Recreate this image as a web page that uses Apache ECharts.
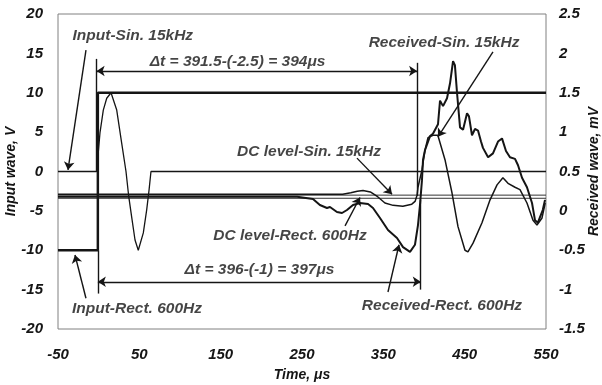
<!DOCTYPE html>
<html>
<head>
<meta charset="utf-8">
<script src="https://cdn.jsdelivr.net/npm/echarts@6/dist/echarts.min.js"></script>
<style>
  html, body { margin: 0; padding: 0; background: #fff; }
  #chart { width: 602px; height: 385px; }
</style>
</head>
<body>
<div id="chart"></div>
<script>
// Time axis labels (μs)
const xTickLabels = ['-50', '50', '150', '250', '350', '450', '550'];

// Input rectangular pulse, 600 Hz (V)
const inRectT = [-50, -1, -1, 550];
const inRectV = [-10, -10, 10, 10];

// Input one-cycle sine burst, 15 kHz (V)
const inSinT = [-50, -2.5, 1.6, 5.7, 9.9, 15.2, 22.2, 28.3, 33.6, 37, 40.6, 44.7, 48.7, 54.9, 59, 61.9, 64.3, 550];
const inSinV = [0, 0, 4.9, 7.8, 9.3, 10, 7.8, 3.6, 0, -3.2, -5.8, -8.7, -10, -7.8, -4.9, -2.4, 0, 0];

// Received signal for the rectangular input (mV)
const rxRectT = [-50, 244, 263.5, 272, 280.7, 284.4, 293, 299.2, 305.3, 312.7, 321.3, 331.2, 337.3, 345.9, 355.7, 366.8, 374.2, 382.8, 388.9, 392.6, 395.1, 397.5, 398.8, 401.2, 407.4, 411, 417.2, 419.7, 423.4, 428.3, 432, 435.7, 438, 440.6, 444.3, 448, 452.9, 455.3, 459, 462.7, 466.4, 470.1, 472.5, 478.8, 484.8, 491, 495.9, 500.8, 505.7, 511.9, 515.6, 520.5, 526.6, 532.8, 536.5, 540, 546, 548.8];
const rxRectV = [0.18, 0.18, 0.15, 0.075, 0.037, 0.049, -0.014, -0.027, 0.011, 0.075, 0.1, 0.087, 0.037, -0.09, -0.243, -0.345, -0.46, -0.52, -0.43, -0.18, 0.08, 0.39, 0.65, 0.77, 0.95, 0.98, 1.1, 1.4, 1.33, 1.43, 1.62, 1.9, 1.85, 1.5, 1.06, 1.03, 1.24, 1.2, 0.96, 1.04, 1.02, 0.88, 0.8, 0.68, 0.73, 0.88, 0.92, 0.76, 0.68, 0.66, 0.58, 0.42, 0.3, 0.1, -0.12, -0.15, 0.01, 0.14];

// Received signal for the sine burst input (mV)
const rxSinT = [-50, 300, 310, 318, 325, 334, 343, 352, 362, 374, 385, 389, 391.5, 392.6, 397.5, 401.2, 404.9, 411, 417, 425.8, 434.4, 441.8, 450.4, 454, 460.3, 471.3, 481.2, 489.8, 497, 503.3, 511.9, 518, 526.6, 534, 538.9, 545.1, 549];
const rxSinV = [0.21, 0.21, 0.23, 0.25, 0.26, 0.24, 0.18, 0.1, 0.07, 0.06, 0.085, 0.12, 0.2, 0.3, 0.52, 0.77, 0.93, 0.96, 0.96, 0.65, 0.23, -0.2, -0.5, -0.52, -0.41, -0.15, 0.14, 0.33, 0.42, 0.35, 0.3, 0.27, 0.1, -0.12, -0.18, -0.09, 0.1];

// DC levels of the received signals (mV)
const dcSin = 0.2;
const dcRect = 0.16;
const xSpan = [-50, 550];

// Time markers (μs) for the delay measurement
const sinStart = -2.5, sinArrival = 391.5;
const rectStart = -1, rectArrival = 396;

// Callout texts and their anchor points (time μs, input-wave V)
const calloutTexts = [
  'Input-Sin. 15kHz',
  'Δt = 391.5-(-2.5) = 394μs',
  'Received-Sin. 15kHz',
  'DC level-Sin. 15kHz',
  'DC level-Rect. 600Hz',
  'Δt = 396-(-1) = 397μs',
  'Input-Rect. 600Hz',
  'Received-Rect. 600Hz'
];
const calloutAt = [
  [42, 17.3], [170.7, 14.0], [424.6, 16.3], [258.6, 2.5],
  [235.2, -8.2], [197.7, -12.5], [47.1, -17.4], [422.1, -17.1]
];

// Pointer arrows: [from, to] in (time μs, input-wave V)
const pointerArrows = [
  [[-15.6, 15.4], [-37.7, 0.2]],
  [[-15.6, -16.1], [-29.1, -10.6]],
  [[484.8, 15.2], [417.2, 4.4]],
  [[317.6, 1.7], [360.7, -2.9]],
  [[302.9, -6.9], [321.3, -3.3]],
  [[355.7, -15.3], [369.3, -9.3]]
];

const ink = '#151515';
const font = { fontFamily: 'Liberation Sans', fontStyle: 'italic', fontWeight: 'bold', color: ink };

const zip = (t, v) => t.map((x, i) => [x, v[i]]);

const chart = echarts.init(document.getElementById('chart'), null, { renderer: 'canvas' });

const markLines = [];
pointerArrows.forEach(([a, b]) => {
  markLines.push([{ coord: a, symbol: 'none' }, { coord: b, symbol: 'arrow' }]);
});
// Δt measurement arrows
markLines.push([{ coord: [sinStart, 12.76], symbol: 'arrow' }, { coord: [sinArrival, 12.76], symbol: 'arrow' }]);
markLines.push([{ coord: [rectStart, -14.0], symbol: 'arrow' }, { coord: [rectArrival, -14.0], symbol: 'arrow' }]);
// Vertical time markers
markLines.push([{ coord: [sinStart, 14.3], symbol: 'none' }, { coord: [sinStart, 0], symbol: 'none' }]);
markLines.push([{ coord: [rectStart, -10], symbol: 'none' }, { coord: [rectStart, -15.5], symbol: 'none' }]);
markLines.push([{ coord: [sinArrival, 13.8], symbol: 'none' }, { coord: [sinArrival, -3.1], symbol: 'none' }]);
markLines.push([{ coord: [rectArrival, -3.6], symbol: 'none' }, { coord: [rectArrival, -15.0], symbol: 'none' }]);

chart.setOption({
  animation: false,
  backgroundColor: '#fff',
  grid: {
    left: 58, right: 56, top: 14, bottom: 56,
    containLabel: false, outerBoundsMode: 'none',
    show: true, borderColor: '#808080', borderWidth: 1
  },
  xAxis: {
    type: 'value', min: -50, max: 550, interval: 50,
    name: 'Time, μs', nameLocation: 'middle', nameGap: 39, nameMoveOverlap: false,
    nameTextStyle: Object.assign({ fontSize: 14 }, font),
    axisLine: { show: false }, axisTick: { show: false }, splitLine: { show: false },
    axisLabel: Object.assign({
      fontSize: 15, margin: 18,
      formatter: v => xTickLabels.includes(String(Math.round(v))) ? String(Math.round(v)) : ''
    }, font)
  },
  yAxis: [
    {
      type: 'value', min: -20, max: 20, interval: 5, position: 'left',
      name: 'Input wave, V', nameLocation: 'middle', nameGap: 40, nameMoveOverlap: false,
      nameTextStyle: Object.assign({ fontSize: 14 }, font),
      axisLine: { show: false }, axisTick: { show: false }, splitLine: { show: false },
      axisLabel: Object.assign({ fontSize: 15, margin: 15 }, font)
    },
    {
      type: 'value', min: -1.5, max: 2.5, interval: 0.5, position: 'right',
      name: 'Received wave, mV', nameLocation: 'middle', nameGap: 41, nameRotate: 90, nameMoveOverlap: false,
      nameTextStyle: Object.assign({ fontSize: 14 }, font),
      axisLine: { show: false }, axisTick: { show: false }, splitLine: { show: false },
      axisLabel: Object.assign({ fontSize: 15, margin: 13 }, font)
    }
  ],
  series: [
    {
      name: 'DC level-Sin. 15kHz', type: 'line', yAxisIndex: 1, showSymbol: false, silent: true,
      data: xSpan.map(x => [x, dcSin]), lineStyle: { color: '#333', width: 1 }
    },
    {
      name: 'DC level-Rect. 600Hz', type: 'line', yAxisIndex: 1, showSymbol: false, silent: true,
      data: xSpan.map(x => [x, dcRect]), lineStyle: { color: '#333', width: 1 }
    },
    {
      name: 'Input-Sin. 15kHz', type: 'line', yAxisIndex: 0, showSymbol: false, silent: true,
      data: zip(inSinT, inSinV), lineStyle: { color: ink, width: 1.3 }
    },
    {
      name: 'Input-Rect. 600Hz', type: 'line', yAxisIndex: 0, showSymbol: false, silent: true,
      data: zip(inRectT, inRectV), lineStyle: { color: ink, width: 2.5 },
      markLine: {
        silent: true, symbolSize: 8, animation: false,
        label: { show: false },
        lineStyle: { type: 'solid', color: ink, width: 1.4 },
        emphasis: { disabled: true },
        data: markLines
      }
    },
    {
      name: 'Received-Sin. 15kHz', type: 'line', yAxisIndex: 1, showSymbol: false, silent: true,
      data: zip(rxSinT, rxSinV), lineStyle: { color: ink, width: 1.5 }
    },
    {
      name: 'Received-Rect. 600Hz', type: 'line', yAxisIndex: 1, showSymbol: false, silent: true,
      data: zip(rxRectT, rxRectV), lineStyle: { color: ink, width: 2 }
    },
    {
      name: 'callouts', type: 'scatter', yAxisIndex: 0, silent: true,
      symbolSize: 1, itemStyle: { color: 'rgba(0,0,0,0)' },
      data: calloutTexts.map((t, i) => ({ name: t, value: calloutAt[i] })),
      label: Object.assign({ show: true, position: 'inside', formatter: '{b}', fontSize: 15.5 }, font),
      labelLayout: { hideOverlap: false }
    }
  ]
});
</script>
</body>
</html>
